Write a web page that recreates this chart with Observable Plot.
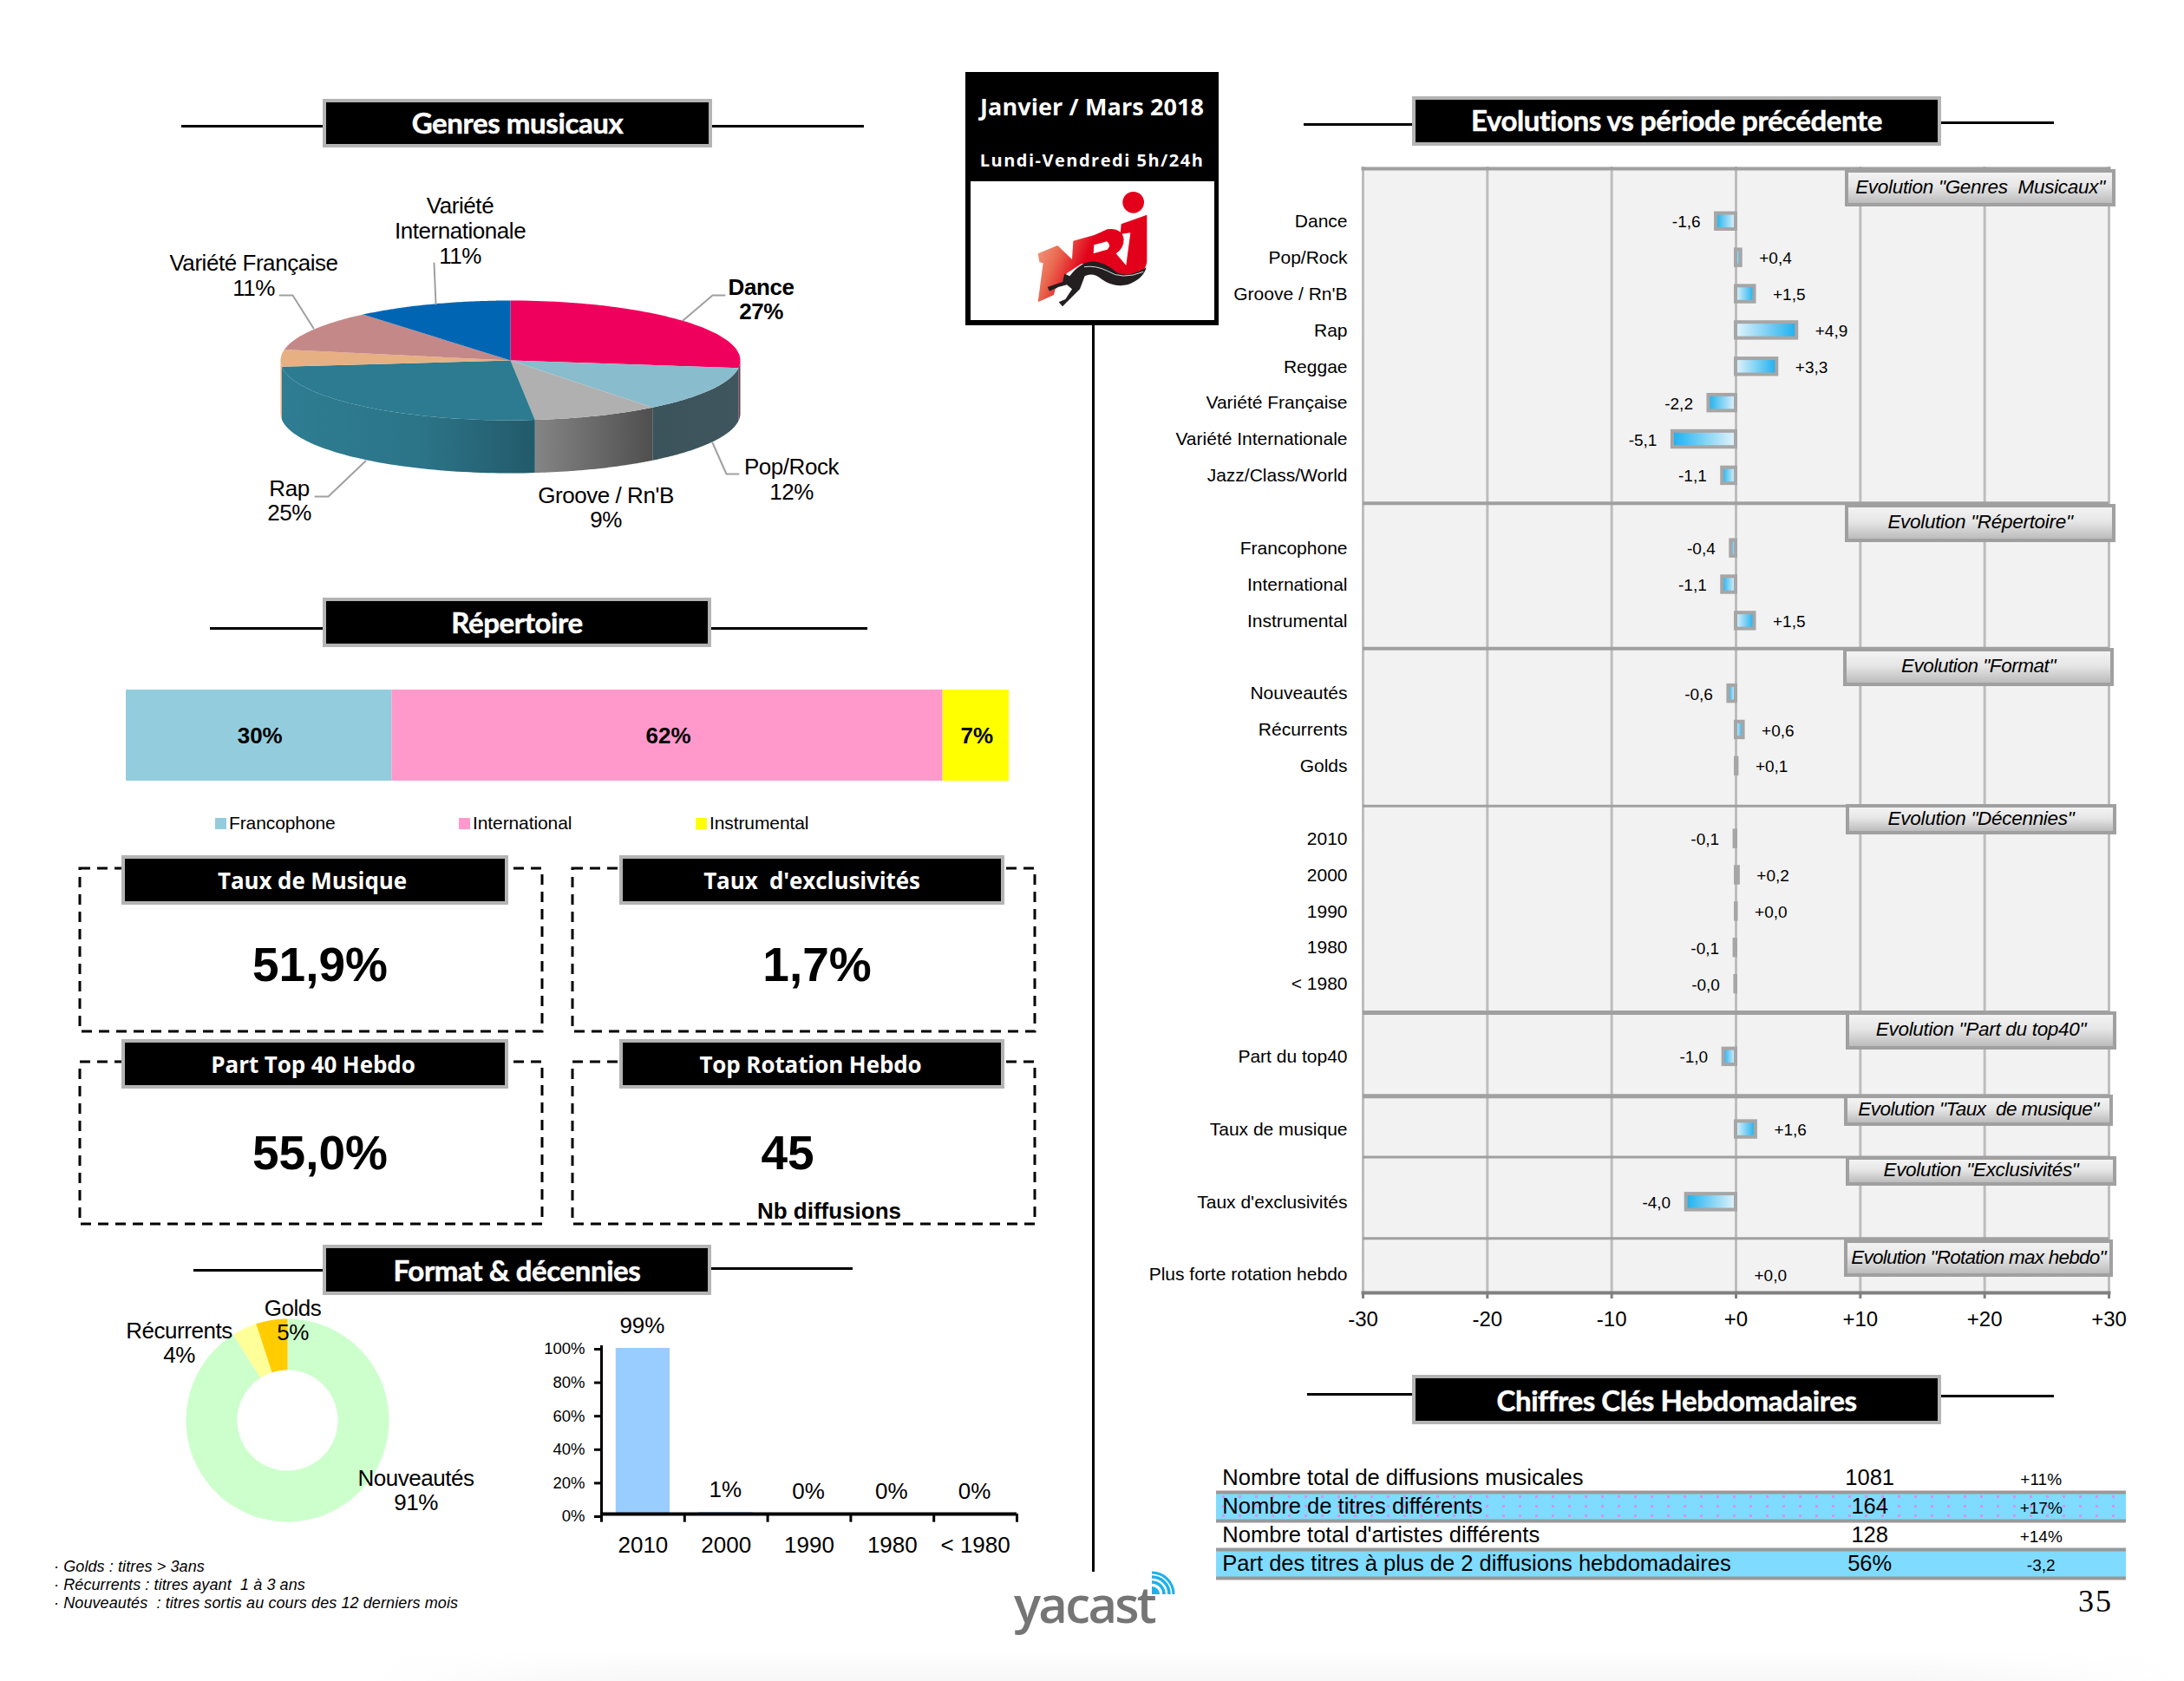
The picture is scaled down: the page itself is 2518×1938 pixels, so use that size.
<!DOCTYPE html>
<html lang="fr">
<head>
<meta charset="utf-8">
<title>Janvier / Mars 2018</title>
<script src="https://cdn.jsdelivr.net/npm/d3@7"></script>
<script src="https://cdn.jsdelivr.net/npm/@observablehq/plot@0.6"></script>
<style>
html,body{margin:0;padding:0;background:#fff;overflow:hidden}
#page{position:relative;width:2518px;height:1938px;overflow:hidden;font-family:"Liberation Sans",Arial,sans-serif;color:#000}
#page svg{overflow:visible}
.hdr{box-sizing:border-box;background:#000;border:4px solid #b4b4b4;color:#fff;display:flex;align-items:center;justify-content:center;font-weight:700;white-space:pre}
.evo{box-sizing:border-box;border:4px solid #a0a0a0;background:linear-gradient(#f3f3f3,#e6e6e6 45%,#bcbcbc);font:italic 22.5px "Liberation Sans";letter-spacing:-.3px;display:flex;align-items:center;justify-content:center;white-space:pre;padding-bottom:2px}
.t{white-space:pre;transform:translate(-50%,-50%)}
</style>
</head>
<body>
<div id="page"></div>
<script>
// ---------- data ----------
const genreNames = ["Dance","Pop/Rock","Groove / Rn'B","Rap","Reggae","Variété Française","Variété Internationale"];
const genreShares = [27,12.4,8.9,25,4.6,11,11.1];
const genreTopColors = ["#f0005c","#89bccd","#b0b0b0","#2c7b90","#e6b083","#c58888","#0066b3"];
const genreWallFills = ["#6a3a50","url(#wallPop)","url(#wallGroove)","url(#wallRap)","#e6b083","#c58888","#0066b3"];
const genreLabels = [
  {lines:["Variété","Internationale","11%"],x:530,y:237,step:29},
  {lines:["Variété Française","11%"],x:292,y:303,step:29},
  {lines:["Dance","27%"],x:877,y:331,step:28,bold:true},
  {lines:["Pop/Rock","12%"],x:912,y:538,step:29},
  {lines:["Groove / Rn'B","9%"],x:698,y:571,step:28},
  {lines:["Rap","25%"],x:333,y:563,step:28}
];
const genreLeaders = [
  [[500,303],[502,350]],
  [[322,340],[337,340],[361,378]],
  [[835,340],[821,340],[787,369]],
  [[821,510],[837,546],[851,546]],
  [[421,531],[378,572],[363,572]]
];

const repNames = ["Francophone","International","Instrumental"];
const repValues = [30.1,62.4,7.5];
const repLabels = ["30%","62%","7%"];
const repColors = ["#93cddd","#ff99cc","#ffff00"];

const formatNames = ["Nouveautés","Récurrents","Golds"];
const formatShares = [91,4,5];
const formatColors = ["#ccffcc","#ffff99","#ffcc00"];
const formatLabels = [
  {lines:["Golds","5%"],x:337,y:1508,step:28},
  {lines:["Récurrents","4%"],x:206,y:1534,step:28},
  {lines:["Nouveautés","91%"],x:479,y:1704,step:28}
];

const decades = ["2010","2000","1990","1980","< 1980"];
const decadeValues = [99,1,0,0,0];
const decadeLabels = ["99%","1%","0%","0%","0%"];
const percentTicks = [0,20,40,60,80,100];

const evoRows = ["_0","Dance","Pop/Rock","Groove / Rn'B","Rap","Reggae","Variété Française","Variété Internationale","Jazz/Class/World","_9",
 "Francophone","International","Instrumental","_13","Nouveautés","Récurrents","Golds","_17",
 "2010","2000","1990","1980","< 1980","_23","Part du top40","_25","Taux de musique","_27","Taux d'exclusivités","_29","Plus forte rotation hebdo"];
const evoCategories = ["Dance","Pop/Rock","Groove / Rn'B","Rap","Reggae","Variété Française","Variété Internationale","Jazz/Class/World","Francophone","International","Instrumental","Nouveautés","Récurrents","Golds","2010","2000","1990","1980","< 1980","Part du top40","Taux de musique","Taux d'exclusivités","Plus forte rotation hebdo"];
const evoValues = [-1.6,0.4,1.5,4.9,3.3,-2.2,-5.1,-1.1,-0.4,-1.1,1.5,-0.6,0.6,0.1,-0.1,0.2,0.04,-0.1,-0.04,-1.0,1.6,-4.0,0];
const evoText = ["-1,6","+0,4","+1,5","+4,9","+3,3","-2,2","-5,1","-1,1","-0,4","-1,1","+1,5","-0,6","+0,6","+0,1","-0,1","+0,2","+0,0","-0,1","-0,0","-1,0","+1,6","-4,0","+0,0"];
const evoTicks = [-30,-20,-10,0,10,20,30];
const evoSeparators = [["_9",-10,4],["_13",-10,4],["_17",4,3],["_23",-9,5],["_25",3.5,5],["_27",-10,3],["_29",0,3]];
const evoBoxes = [
  ['Evolution "Genres  Musicaux"',2127,2439,195,238,-.3],
  ['Evolution "Répertoire"',2127,2439,581,625,-.3],
  ['Evolution "Format"',2125,2437,747,791,-.45],
  ['Evolution "Décennies"',2128,2440,927,962,-.3],
  ['Evolution "Part du top40"',2128,2440,1166,1210,-.3],
  ['Evolution "Taux  de musique"',2126,2436,1262,1298,-.5],
  ['Evolution "Exclusivités"',2128,2440,1333,1367,-.3],
  ['Evolution "Rotation max hebdo"',2126,2436,1429,1472,-.75]
];

const kpiTitles = ["Taux de Musique","Taux  d'exclusivités","Part Top 40 Hebdo","Top Rotation Hebdo"];
const kpiValues = ["51,9%","1,7%","55,0%","45"];

const keyRows = ["Nombre total de diffusions musicales","Nombre de titres différents","Nombre total d'artistes différents","Part des titres à plus de 2 diffusions hebdomadaires"];
const keyValues = ["1081","164","128","56%"];
const keyChanges = ["+11%","+17%","+14%","-3,2"];
const keyBanded = [keyRows[1],keyRows[3]];

const notes = ["· Golds : titres > 3ans","· Récurrents : titres ayant  1 à 3 ans","· Nouveautés  : titres sortis au cours des 12 derniers mois"];

// ---------- helpers ----------
const page = document.getElementById("page");
const FONT = '"Liberation Sans",Arial,sans-serif';
function put(node,left,top){node.style.position="absolute";node.style.left=left+"px";node.style.top=top+"px";page.append(node);return node;}
function div(cls,css,txt){const d=document.createElement("div");if(cls)d.className=cls;if(css)d.style.cssText=css;if(txt!=null)d.textContent=txt;return d;}
function hline(x0,x1,y,h=3){put(div("",`width:${x1-x0}px;height:${h}px;background:#000`),x0,y-h/2);}
function header(txt,x0,x1,y0,y1,font){const d=div("hdr",`width:${x1-x0}px;height:${y1-y0}px;${font}`,txt);put(d,x0,y0);}
function label(txt,cx,cy,css){put(div("t",css,txt),cx,cy);}
const TITLE='font-family:Lato;font-size:33px;letter-spacing:-.4px;-webkit-text-stroke:.5px #fff;box-sizing:border-box;';
const SUB='font-family:"Open Sans";font-size:26px;letter-spacing:-.1px;';

function gradient(id,stops,x2=1){
  const g=d3.create("svg:linearGradient").attr("id",id).attr("x1",0).attr("x2",x2).attr("y1",0).attr("y2",0);
  stops.forEach(([o,c])=>g.append("stop").attr("offset",o).attr("stop-color",c));
  return g.node();
}
function defs(...nodes){return ()=>{const d=d3.create("svg:defs");nodes.forEach(n=>d.node().append(n));return d.node();};}
function ramp(a0,a1,n=60){return d3.range(n+1).map(i=>a0+(a1-a0)*i/n);}

// ---------- header strips ----------
hline(209,372,145);hline(821,996,145);
header("Genres musicaux",372,821,114,170,TITLE+"padding-bottom:3px;");
hline(242,372,724.5);hline(820,1000,724.5);
header("Répertoire",372,820,689,746,TITLE+"padding-bottom:2px;");
hline(223,372,1464);hline(820,983,1462);
header("Format & décennies",372,820,1435,1493,TITLE+"padding-bottom:1px;");
hline(1503,1628,143);hline(2238,2368,141);
header("Evolutions vs période précédente",1628,2238,111,168,TITLE+"padding-bottom:3px;");
hline(1507,1628,1607);hline(2238,2368,1609);
header("Chiffres Clés Hebdomadaires",1628,2238,1585,1642,TITLE+"padding-top:1px;");

// ---------- 3D pie: genres ----------
{
  const cx=588,cy=415,rx=265,ry=69,depth=61;
  const arcs=d3.pie().sort(null)(genreShares);
  const P=(a,dz=0)=>({x:cx+Math.sin(a)*rx,y:cy-Math.cos(a)*ry+dz});
  const front0=Math.PI/2,front1=Math.PI*1.5;
  const walls=[],tops=[];
  arcs.forEach((s,i)=>{
    const a0=Math.max(s.startAngle,front0),a1=Math.min(s.endAngle,front1);
    if(a1>a0){
      const r=ramp(a0,a1);
      walls.push(Plot.line([...r.map(a=>P(a)),...r.slice().reverse().map(a=>P(a,depth))],{x:"x",y:"y",fill:genreWallFills[i]}));
    }
    const r=ramp(s.startAngle,s.endAngle);
    tops.push(Plot.line([{x:cx,y:cy},...r.map(a=>P(a))],{x:"x",y:"y",fill:genreTopColors[i]}));
  });
  const texts=genreLabels.flatMap(l=>l.lines.map((t,k)=>({t,x:l.x,y:l.y+k*l.step,bold:!!l.bold})));
  const leaders=genreLeaders.map(pts=>Plot.line(pts,{x:d=>d[0],y:d=>d[1],stroke:"#a0a0a0",strokeWidth:2}));
  const plot=Plot.plot({
    width:900,height:440,margin:0,
    x:{domain:[100,1000],axis:null},y:{domain:[200,640],range:[0,440],axis:null},
    style:{background:"transparent",fontFamily:FONT,overflow:"visible",letterSpacing:"-.45px"},
    marks:[
      defs(gradient("wallRap",[[0,"#2e7d92"],[.55,"#2c7488"],[1,"#225a6a"]]),
           gradient("wallGroove",[[0,"#858585"],[1,"#4f4f4f"]]),
           gradient("wallPop",[[0,"#3b535b"],[1,"#3f565f"]])),
      ...walls,...tops,...leaders,
      Plot.text(texts.filter(d=>!d.bold),{x:"x",y:"y",text:"t",fontSize:26,fill:"#000"}),
      Plot.text(texts.filter(d=>d.bold),{x:"x",y:"y",text:"t",fontSize:26,fontWeight:700,fill:"#000"})
    ]
  });
  put(plot,100,200);
}

// ---------- stacked bar: répertoire ----------
{
  const data=repNames.map((n,i)=>({n,v:repValues[i],l:repLabels[i]}));
  const plot=Plot.plot({
    width:1018,height:105,margin:0,
    x:{domain:[0,100],axis:null},
    color:{domain:repNames,range:repColors},
    style:{background:"transparent",fontFamily:FONT,overflow:"visible"},
    marks:[
      Plot.barX(data,Plot.stackX({x:"v",fill:"n"})),
      Plot.text(data,Plot.stackX({x:"v",text:"l",dx:1,dy:1,fontSize:26,fontWeight:700,fill:"#000",letterSpacing:"-1px"}))
    ]
  });
  put(plot,145,795);
  [[248,264],[529,545],[802,818]].forEach(([sq,tx],i)=>{
    put(div("",`width:13px;height:13px;background:${repColors[i]}`),sq,943);
    put(div("",`font-size:21px;letter-spacing:-.1px;line-height:24px;white-space:nowrap`,repNames[i]),tx,937);
  });
}

// ---------- KPI boxes ----------
{
  const boxes=[[92,625,1001,1189],[660,1193,1001,1189],[92,625,1224,1411],[660,1193,1224,1411]];
  const heads=[[140,586,986,1043],[714,1158,986,1043],[140,586,1198,1255],[714,1158,1198,1255]];
  const headPad=[6,0,4,3];
  const vals=[[369,1112],[942,1112],[369,1329],[908,1329]];
  const svg=d3.create("svg").attr("width",1200).attr("height",500).style("position","absolute");
  boxes.forEach(b=>svg.append("rect").attr("x",b[0]).attr("y",b[2]-950).attr("width",b[1]-b[0]).attr("height",b[3]-b[2]).attr("fill","none").attr("stroke","#000").attr("stroke-width",3).attr("stroke-dasharray","12,8"));
  put(svg.node(),0,950);
  heads.forEach((h,i)=>{
    header(kpiTitles[i],h[0],h[1],h[2],h[3],SUB+`padding-right:${headPad[i]}px;`);
    label(kpiValues[i],vals[i][0],vals[i][1],'font-size:55px;font-weight:700;');
  });
  label("Nb diffusions",956,1396,'font-size:26px;font-weight:700;');
}

// ---------- donut: format ----------
{
  const cx=331,cy=1637,R=117,r=58;
  const arcs=d3.pie().sort(null)(formatShares);
  const P=(a,q)=>({x:cx+Math.sin(a)*q,y:cy-Math.cos(a)*q});
  const slices=arcs.map((s,i)=>{
    const t=ramp(s.startAngle,s.endAngle,120);
    return Plot.line([...t.map(a=>P(a,R)),...t.slice().reverse().map(a=>P(a,r))],{x:"x",y:"y",fill:formatColors[i]});
  });
  const texts=formatLabels.flatMap(l=>l.lines.map((t,k)=>({t,x:l.x,y:l.y+k*l.step})));
  const plot=Plot.plot({
    width:480,height:290,margin:0,
    x:{domain:[130,610],axis:null},y:{domain:[1480,1770],range:[0,290],axis:null},
    style:{background:"transparent",fontFamily:FONT,overflow:"visible",letterSpacing:"-.45px"},
    marks:[...slices,Plot.text(texts,{x:"x",y:"y",text:"t",fontSize:26,fill:"#000"})]
  });
  put(plot,130,1480);
}

// ---------- bars: décennies ----------
{
  const data=decades.map((d,i)=>({d,v:decadeValues[i],l:decadeLabels[i]}));
  const step=479/5;
  const plot=Plot.plot({
    width:560,height:290,marginLeft:93,marginRight:-12,marginTop:52,marginBottom:45,
    x:{domain:decades,paddingInner:.35,paddingOuter:.175,round:false,label:null,axis:null},
    y:{domain:[0,100],ticks:percentTicks,label:null,axis:null},
    style:{background:"transparent",fontFamily:FONT,overflow:"visible"},
    marks:[
      Plot.barY(data,{x:"d",y:"v",fill:"#99ccff"}),
      Plot.text(data,{x:"d",y:"v",text:"l",dy:-26,dx:-1,fontSize:26,fill:"#000",letterSpacing:"-.7px"}),
      Plot.ruleY([0],{stroke:"#000",strokeWidth:4}),
      Plot.frame({anchor:"left",stroke:"#000",strokeWidth:3}),
      Plot.ruleX(decades,{x:d=>d,y1:()=>0,y2:()=>-5,dx:-step/2,stroke:"#000",strokeWidth:3}),
      Plot.ruleX(["< 1980"],{x:d=>d,y1:()=>0,y2:()=>-5,dx:step/2,stroke:"#000",strokeWidth:3}),
      Plot.axisY({ticks:percentTicks,tickFormat:d=>d+"%",tickSize:8,tickPadding:11,dy:3,label:null,fontSize:18.5,strokeWidth:3,letterSpacing:"-.6px"}),
      Plot.axisX({tickSize:0,tickPadding:26,label:null,fontSize:26,letterSpacing:"-.6px"})
    ]
  });
  put(plot,600,1500);
}

notes.forEach((t,i)=>put(div("",'font:italic 18px/21px "Liberation Sans";letter-spacing:.1px;white-space:pre',t),62,1796+i*21));

// ---------- Evolutions ----------
{
  const data=evoCategories.map((c,i)=>({c,v:evoValues[i],t:evoText[i]}));
  const withBar=data.filter(d=>d.v!==0);
  const barOpts={x:"v",y:"c",stroke:"#a6a6a6",strokeWidth:4};
  const plot=Plot.plot({
    width:1238,height:1360,marginLeft:291,marginRight:87,marginTop:12,marginBottom:50,
    x:{domain:[-30,30],label:null,axis:null},
    y:{domain:evoRows,paddingInner:.56,paddingOuter:.28,round:false,label:null,axis:null},
    style:{background:"transparent",fontFamily:FONT,overflow:"visible"},
    marks:[
      defs(gradient("barPos",[[0,"#e3f3fa"],[1,"#1cb0ef"]]),gradient("barNeg",[[0,"#1cb0ef"],[1,"#e3f3fa"]])),
      Plot.frame({fill:"#f2f2f2"}),
      Plot.ruleX(evoTicks,{stroke:"#bdbdbd",strokeWidth:3}),
      ...evoSeparators.map(([row,dy,w])=>Plot.ruleY([row],{y:d=>d,dy,stroke:"#a0a0a0",strokeWidth:w})),
      Plot.frame({anchor:"top",dy:2,stroke:"#a0a0a0",strokeWidth:4}),
      Plot.frame({anchor:"bottom",stroke:"#808080",strokeWidth:4}),
      Plot.barX(withBar.filter(d=>d.v>0),{...barOpts,fill:"url(#barPos)"}),
      Plot.barX(withBar.filter(d=>d.v<0),{...barOpts,fill:"url(#barNeg)"}),
      Plot.text(data.filter(d=>d.t[0]==="+"),{x:"v",y:"c",text:"t",dx:21,dy:1,textAnchor:"start",fontSize:19,fill:"#000",letterSpacing:"-.7px"}),
      Plot.text(data.filter(d=>d.t[0]==="-"),{x:"v",y:"c",text:"t",dx:-18,dy:1,textAnchor:"end",fontSize:19,fill:"#000",letterSpacing:"-.7px"}),
      Plot.axisY({domain:evoRows,tickSize:0,tickPadding:18,label:null,fontSize:21,letterSpacing:"-.4px",tickFormat:d=>d[0]==="_"?"":d}),
      Plot.axisX({ticks:evoTicks,tickSize:7,tickPadding:14,label:null,fontSize:24,stroke:"#808080",strokeWidth:3,letterSpacing:"-.6px",tickFormat:d=>d<0?String(d):"+"+d})
    ]
  });
  put(plot,1280,180);
  evoBoxes.forEach(([t,x0,x1,y0,y1,ls])=>put(div("evo",`width:${x1-x0}px;height:${y1-y0}px;letter-spacing:${ls}px`,t),x0,y0));
}

// ---------- Chiffres clés ----------
{
  const data=keyRows.map((r,i)=>({r,v:keyValues[i],c:keyChanges[i]}));
  const plot=Plot.plot({
    width:1049,height:132,margin:0,
    x:{domain:[0,1],axis:null},
    y:{domain:keyRows,padding:0,round:false,axis:null},
    style:{background:"transparent",fontFamily:FONT,overflow:"visible"},
    marks:[
      ()=>{
        const d=d3.create("svg:defs");
        const p=d.append("pattern").attr("id","dots").attr("width",19).attr("height",11).attr("patternUnits","userSpaceOnUse");
        p.append("rect").attr("width",19).attr("height",11).attr("fill","#7fdbff");
        p.append("rect").attr("x",7).attr("y",4).attr("width",3).attr("height",3).attr("fill","#d891ee");
        return d.node();
      },
      Plot.barX(keyBanded.slice(0,1),{x:1,y:d=>d,fill:"url(#dots)"}),
      Plot.barX(keyBanded.slice(1),{x:1,y:d=>d,fill:"#7fdbff"}),
      Plot.ruleY(keyBanded,{y:d=>d,dy:-16.5,stroke:"#999",strokeWidth:4}),
      Plot.ruleY(keyBanded,{y:d=>d,dy:16.5,stroke:"#999",strokeWidth:4}),
      Plot.text(data,{x:()=>.0065,y:"r",text:"r",textAnchor:"start",fontSize:25.5,fill:"#000",letterSpacing:"-.58px"}),
      Plot.text(data,{x:()=>.718,y:"r",text:"v",fontSize:25.5,fill:"#000",letterSpacing:"-.5px"}),
      Plot.text(data,{x:()=>.9063,y:"r",text:"c",dy:2,fontSize:19,fill:"#000",letterSpacing:"-1.4px"})
    ]
  });
  put(plot,1402,1686.5);
}

// ---------- Station box, NRJ logo, yacast, page number ----------
{
  const panel=div("",'box-sizing:border-box;width:292px;height:292px;background:#000');
  put(panel,1113,83);
  put(div("",'width:281px;height:160px;background:#fff'),1119,209);
  put(div("",'width:3px;height:1437px;background:#000'),1259,375);
  label("Janvier / Mars 2018",1259,122,'font:700 27px "Open Sans";color:#fff;letter-spacing:.1px');
  label("Lundi-Vendredi 5h/24h",1259,184,'font:700 20px "Open Sans";color:#fff;letter-spacing:1.5px');
  const ns='xmlns="http://www.w3.org/2000/svg"';
  const logo=div("",'width:260px;height:160px');
  logo.innerHTML=`<svg ${ns} width="260" height="160" viewBox="0 0 780 480">
    <defs><linearGradient id="nrjG" x1="0" x2="1" y1="0" y2=".35"><stop offset="0" stop-color="#f2b39a"/><stop offset=".3" stop-color="#ea6a50"/><stop offset=".55" stop-color="#e2001a"/></linearGradient></defs>
    <circle cx="530" cy="85" r="37" fill="#e2001a"/>
    <path fill="url(#nrjG)" d="M200 262 L268 234 L318 282 L322 218 L395 198 L440 178 Q490 172 497 212 Q497 245 470 262 L505 303 L520 190 L485 195 L488 160 L577 128 L577 290 Q570 340 500 340 Q470 340 440 320 L400 300 L350 298 L300 330 L280 370 L260 385 L255 405 L200 430 L218 295 L205 292 Z"/>
    <path fill="#fff" d="M394 232 L438 220 Q456 232 440 248 L392 262Z"/>
    <path fill="#231f20" d="M310 340 Q350 286 400 290 Q440 298 470 325 Q510 350 575 310 Q565 350 510 370 Q460 380 420 350 Q390 325 362 340 L345 385 L300 430 L285 445 L272 430 L295 420 L318 385 L300 370 L270 378 L240 392 L233 378 L285 360 L292 332Z"/>
    <path fill="none" stroke="#ddd" stroke-width="3" d="M360 308 Q400 302 440 322 Q490 355 565 325"/></svg>`;
  put(logo,1130,205);
  put(div("",'font:600 58px/64px "Open Sans";color:#757575;letter-spacing:-2.7px;white-space:nowrap','yacast'),1169,1817);
  const wifi=div("",'width:40px;height:40px');
  wifi.innerHTML=`<svg ${ns} width="40" height="40" viewBox="0 0 40 40">
    <path d="M0 25 V16 A9 9 0 0 1 9 25Z" fill="#1eb0e8"/>
    <path d="M0 11 A14 14 0 0 1 14 25" fill="none" stroke="#1eb0e8" stroke-width="3.5"/>
    <path d="M0 5 A20 20 0 0 1 20 25" fill="none" stroke="#1eb0e8" stroke-width="3.5"/>
    <path d="M0 0 A25 25 0 0 1 25 25" fill="none" stroke="#1eb0e8" stroke-width="3"/></svg>`;
  put(wifi,1328,1813);
  label("35",2416,1846,'font:36px "Liberation Serif";letter-spacing:2px');
  put(div("",'width:2100px;height:38px;background:linear-gradient(rgba(247,247,247,0),#f7f7f7);-webkit-mask-image:linear-gradient(to right,transparent,#000 15%,#000 85%,transparent)'),420,1900);
}
</script>
</body>
</html>
